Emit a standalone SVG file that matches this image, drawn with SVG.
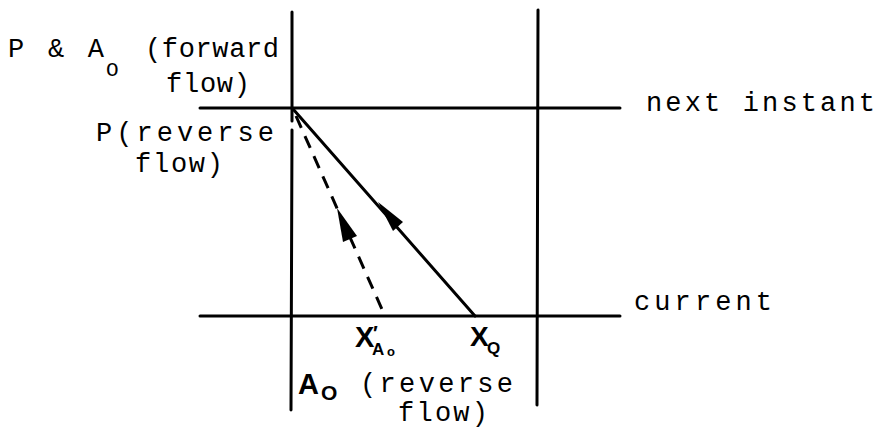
<svg xmlns="http://www.w3.org/2000/svg" width="879" height="429" viewBox="0 0 879 429">
<defs>
<style>
.ln{stroke:#000;stroke-width:3;fill:none;stroke-linecap:round}
.dash{stroke:#000;stroke-width:3;fill:none;stroke-dasharray:13 9}
.t{font-family:"Liberation Mono","DejaVu Sans Mono",monospace;font-size:27px;fill:#000}
.s{font-family:"Liberation Mono","DejaVu Sans Mono",monospace;font-size:21px;fill:#000}
.b{font-family:"Liberation Sans",Arial,sans-serif;font-weight:bold;fill:#000}
</style>
</defs>
<rect width="879" height="429" fill="#fff"/>
<g id="axes">
<line class="ln" x1="292" y1="12" x2="292" y2="121"/>
<line class="ln" x1="292" y1="130" x2="291" y2="410"/>
<line class="ln" x1="538" y1="10" x2="537" y2="405"/>
<line class="ln" x1="200" y1="108" x2="620" y2="108"/>
<line class="ln" x1="200" y1="316" x2="620" y2="316"/>
</g>
<g id="connectors">
<line class="ln" x1="293" y1="109" x2="475" y2="316"/>
<line class="dash" x1="296" y1="116" x2="385" y2="316"/>
<polygon points="378,202 403,222 393,231" fill="#000"/>
<polygon points="337,208 357,236 343,242" fill="#000"/>
</g>
<g id="label-forward">
<text class="t" x="8" y="57"><tspan textLength="96" lengthAdjust="spacing">P &amp; A</tspan><tspan class="s" x="106" dy="19">O</tspan></text>
<text class="t" x="145" y="57" textLength="134" lengthAdjust="spacing">(forward</text>
<text class="t" x="166" y="92" textLength="84" lengthAdjust="spacing">flow)</text>
</g>
<g id="label-P-reverse">
<text class="t" x="96" y="141" textLength="178" lengthAdjust="spacing">P(reverse</text>
<text class="t" x="135" y="172" textLength="88" lengthAdjust="spacing">flow)</text>
</g>
<g id="label-next">
<text class="t" x="646" y="111" textLength="229" lengthAdjust="spacing">next instant</text>
</g>
<g id="label-current">
<text class="t" x="634" y="310" textLength="138" lengthAdjust="spacing">current</text>
</g>
<g id="label-XA">
<text class="b" x="355" y="347" font-size="29">X<tspan x="373" y="340" font-size="20">′</tspan><tspan x="372" y="355" font-size="17">A</tspan><tspan x="387" y="356" font-size="13">o</tspan></text>
</g>
<g id="label-XQ">
<text class="b" x="470" y="346" font-size="28">X<tspan x="487" y="354" font-size="17">Q</tspan></text>
</g>
<g id="label-A0-reverse">
<text class="b" x="298" y="394" font-size="29">A<tspan x="321" y="400" font-size="21">O</tspan></text>
<text class="t" x="360" y="392" textLength="153" lengthAdjust="spacing">(reverse</text>
<text class="t" x="398" y="421" textLength="90" lengthAdjust="spacing">flow)</text>
</g>
</svg>
